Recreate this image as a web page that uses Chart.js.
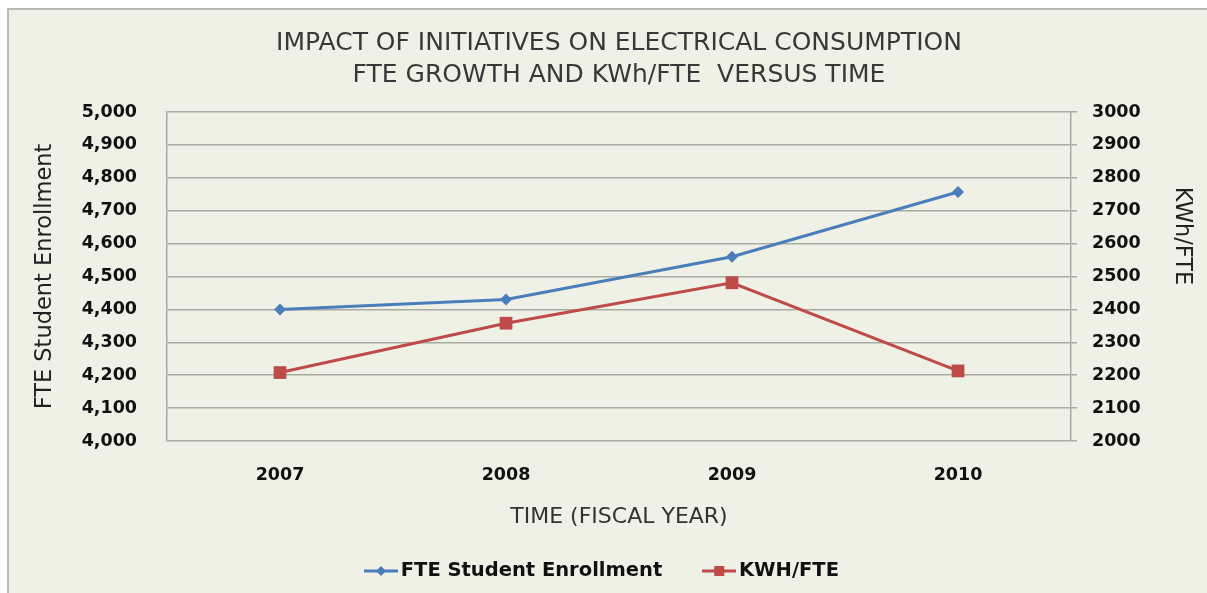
<!DOCTYPE html>
<html><head><meta charset="utf-8">
<script src="https://cdn.jsdelivr.net/npm/chart.js@4.4.1/dist/chart.umd.min.js"></script>
<style>html,body{margin:0;padding:0;background:#fff;overflow:hidden}</style>
</head><body><canvas id="c" width="1207" height="593"></canvas>
<script>
const years = ['2007', '2008', '2009', '2010'];
const enrollment = [4400, 4430, 4560, 4757];
const kwhPerFte = [2208, 2358, 2481, 2213];
const titleLines = ['IMPACT OF INITIATIVES ON ELECTRICAL CONSUMPTION', 'FTE GROWTH AND KWh/FTE  VERSUS TIME'];
const seriesNames = ['FTE Student Enrollment', 'KWH/FTE'];
const leftTicks = {min: 4000, max: 5000, step: 100};
const rightTicks = {min: 2000, max: 3000, step: 100};
const axisTitles = {x: 'TIME (FISCAL YEAR)', y: 'FTE Student Enrollment', y1: 'KWh/FTE'};

const FONT = 'DejaVu Sans';
const BLUE = '#4a7ebb', RED = '#be4b48', GRID = '#a9aba2';
const AREA = {left: 167, right: 1071, top: 112, bottom: 441};
const LEG_FS = 19.5, LEG_PAD = 47, LEG_BW = 20;
const LEG_TOP = 571 - LEG_PAD - LEG_FS / 2;
const LEG_H = LEG_FS + LEG_PAD + 10;
const PL = 3, PR = 0, PT = 0;
const PB = 593 - LEG_TOP - LEG_H;
const XT_FS = 22, YT_FS = 22.5;

function makeMarker(color, shape) {
  const c = document.createElement('canvas');
  c.width = 34; c.height = 14;
  const g = c.getContext('2d');
  g.strokeStyle = color; g.lineWidth = 3;
  g.beginPath(); g.moveTo(0, 7); g.lineTo(34, 7); g.stroke();
  g.fillStyle = color;
  if (shape === 'diamond') {
    g.beginPath(); g.moveTo(17, 2); g.lineTo(22, 7); g.lineTo(17, 12); g.lineTo(12, 7); g.closePath(); g.fill();
  } else {
    g.fillRect(12, 2, 10, 10);
  }
  return c;
}
const markers = [makeMarker(BLUE, 'diamond'), makeMarker(RED, 'square')];

const panelBg = {
  id: 'panelBg',
  beforeDraw(chart) {
    const ctx = chart.ctx;
    ctx.save();
    ctx.fillStyle = '#ffffff'; ctx.fillRect(0, 0, 1207, 593);
    ctx.fillStyle = '#eff1e6'; ctx.fillRect(7, 8, 1200, 585);
    ctx.strokeStyle = '#b9bab4'; ctx.lineWidth = 2;
    ctx.beginPath(); ctx.moveTo(8, 593); ctx.lineTo(8, 9); ctx.lineTo(1207, 9); ctx.stroke();
    ctx.restore();
  }
};

const rightTitle = {
  id: 'rightTitle',
  afterDraw(chart) {
    const ctx = chart.ctx;
    ctx.save();
    ctx.translate(1182, 236);
    ctx.rotate(Math.PI / 2);
    ctx.font = YT_FS + 'px "' + FONT + '"';
    ctx.fillStyle = '#222';
    ctx.textAlign = 'center';
    ctx.textBaseline = 'middle';
    ctx.fillText(axisTitles.y1, 0, 0);
    ctx.restore();
  }
};

new Chart(document.getElementById('c'), {
  type: 'line',
  data: {
    labels: years,
    datasets: [
      {label: seriesNames[0], data: enrollment, yAxisID: 'y', borderColor: BLUE, backgroundColor: BLUE,
       borderWidth: 3, pointStyle: 'rectRot', pointRadius: 6, pointBorderWidth: 0, tension: 0},
      {label: seriesNames[1], data: kwhPerFte, yAxisID: 'y1', borderColor: RED, backgroundColor: RED,
       borderWidth: 3, pointStyle: 'rect', pointRadius: 9, pointBorderWidth: 0, tension: 0}
    ]
  },
  options: {
    responsive: false, animation: false, devicePixelRatio: 1,
    layout: {padding: {left: PL, right: PR, top: PT, bottom: PB}},
    plugins: {
      tooltip: {enabled: false},
      title: {display: true, fullSize: false, text: titleLines, color: '#383838',
        font: {family: FONT, size: 25, weight: 'normal', lineHeight: '32px'},
        padding: {top: 27, bottom: 21}},
      legend: {position: 'bottom',
        labels: {usePointStyle: true, pointStyleWidth: LEG_BW, padding: LEG_PAD, color: '#111',
          font: {family: FONT, size: LEG_FS, weight: 'bold'},
          generateLabels(chart) {
            return chart.data.datasets.map((ds, i) => ({text: ds.label, fillStyle: ds.borderColor,
              strokeStyle: ds.borderColor, lineWidth: 0, pointStyle: markers[i], datasetIndex: i,
              hidden: false, fontColor: '#111'}));
          }}}
    },
    scales: {
      x: {position: 'bottom', offset: true,
        grid: {display: false}, border: {display: false},
        ticks: {color: '#111', padding: 16, font: {family: FONT, size: 17.5, weight: 'bold'}},
        title: {display: true, text: axisTitles.x, color: '#333',
          font: {family: FONT, size: XT_FS, weight: 'normal'},
          padding: {top: 0, bottom: (LEG_TOP - 517) - XT_FS * 0.6}},
        afterFit(s) { s.height = LEG_TOP - AREA.bottom; }},
      y: {position: 'left', min: leftTicks.min, max: leftTicks.max,
        grid: {color: GRID, lineWidth: 1.5, drawTicks: false},
        border: {display: true, color: GRID, width: 1.5},
        ticks: {stepSize: leftTicks.step, color: '#111', padding: 30,
          font: {family: FONT, size: 17.5, weight: 'bold'},
          callback: v => v.toLocaleString('en-US')},
        title: {display: true, text: axisTitles.y, color: '#222',
          font: {family: FONT, size: YT_FS, weight: 'normal'},
          padding: {top: 45 - PL - YT_FS * 0.6, bottom: 0}},
        afterFit(s) { s.width = AREA.left - PL; }},
      y1: {position: 'right', min: rightTicks.min, max: rightTicks.max,
        grid: {color: GRID, lineWidth: 1.5, drawOnChartArea: false, drawTicks: true, tickLength: 6},
        border: {display: true, color: GRID, width: 1.5},
        ticks: {stepSize: rightTicks.step, color: '#111', padding: 15,
          font: {family: FONT, size: 17.5, weight: 'bold'},
          callback: v => String(v)},
        title: {display: false, text: axisTitles.y1},
        afterFit(s) { s.width = 1207 - PR - AREA.right; }}
    }
  },
  plugins: [panelBg, rightTitle]
});
</script></body></html>
